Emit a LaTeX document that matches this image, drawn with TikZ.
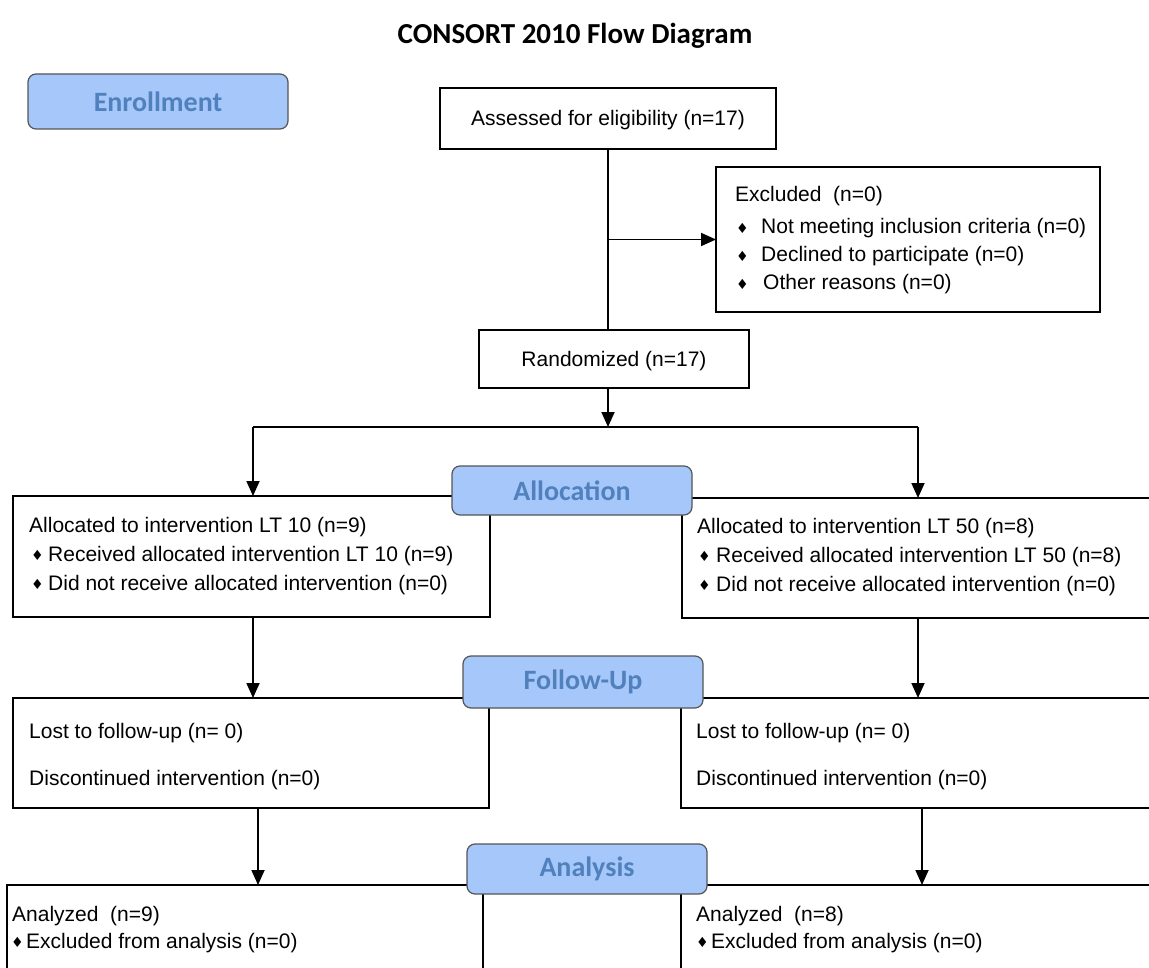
\documentclass[tikz,border=0pt]{standalone}
\usepackage{fontspec}
\setmainfont{Liberation Sans}
\newfontfamily\calib{Carlito}
\newfontfamily\symf{DejaVu Sans}
\usetikzlibrary{arrows.meta}
\definecolor{lblfill}{RGB}{166,199,250}
\definecolor{lbltext}{RGB}{80,129,189}
\definecolor{lbldraw}{RGB}{85,85,85}
\newcommand{\dbul}{\raisebox{0.5pt}{\symf\fontsize{14}{14}\selectfont\char"2666}}
\newcommand{\bodyfont}{\fontsize{21}{25}\selectfont}
\newcommand{\lowr}[1]{\raisebox{-2pt}[\height][\depth]{#1}}
\begin{document}
\begin{tikzpicture}[x=1pt,y=-1pt,font=\bodyfont,
  box/.style={draw=black,line width=1.2pt,inner sep=0pt,outer sep=0pt,anchor=north west,fill=white},
  lbl/.style={draw=lbldraw,line width=1.2pt,fill=lblfill,rounded corners=8pt,anchor=north west,inner sep=0pt,outer sep=0pt,text=lbltext,font=\calib\bfseries\fontsize{28}{30}\selectfont},
  txt/.style={anchor=base west,inner sep=0pt},
  conn/.style={line width=1.8pt},
  arr/.style={line width=1.8pt,-{Triangle[length=15pt,width=13pt]}}]
\clip (0,0) rectangle (1149,968);
\fill[white] (0,0) rectangle (1149,968);

\node[font=\calib\bfseries\fontsize{29}{32}\selectfont] (title) at (575,36) {CONSORT 2010 Flow Diagram};

% boxes
\node[box,minimum width=336pt,minimum height=61pt] (assess) at (440,88) {\lowr{Assessed for eligibility (n=17)}};
\node[box,minimum width=384pt,minimum height=145pt] (excl) at (716,167) {};
\node[box,minimum width=270pt,minimum height=58pt] (rand) at (479,330) {\lowr{Randomized (n=17)}};
\node[box,minimum width=477pt,minimum height=121pt] (allocL) at (13,496) {};
\node[box,minimum width=480pt,minimum height=120pt] (allocR) at (682,498) {};
\node[box,minimum width=476pt,minimum height=110pt] (follL) at (13,698) {};
\node[box,minimum width=480pt,minimum height=110pt] (follR) at (681,698) {};
\node[box,minimum width=476pt,minimum height=120pt] (anaL) at (7,885) {};
\node[box,minimum width=480pt,minimum height=120pt] (anaR) at (681,885) {};

% texts
\node[txt] (ex0) at (735,202) {Excluded\ \ (n=0)};
\node[txt] (ex1) at (736,234) {\makebox[25pt][l]{\dbul}Not meeting inclusion criteria (n=0)};
\node[txt] (ex2) at (736,262) {\makebox[25pt][l]{\dbul}Declined to participate (n=0)};
\node[txt] (ex3) at (736,290) {\makebox[27pt][l]{\dbul}Other reasons (n=0)};

\node[txt] (al0) at (29,532) {Allocated to intervention LT 10 (n=9)};
\node[txt] (al1) at (31,561) {\makebox[17pt][l]{\dbul}Received allocated intervention LT 10 (n=9)};
\node[txt] (al2) at (31,590) {\makebox[17pt][l]{\dbul}Did not receive allocated intervention (n=0)};

\node[txt] (ar0) at (697,533) {Allocated to intervention LT 50 (n=8)};
\node[txt] (ar1) at (698,562) {\makebox[18pt][l]{\dbul}Received allocated intervention LT 50 (n=8)};
\node[txt] (ar2) at (698,591) {\makebox[18pt][l]{\dbul}Did not receive allocated intervention (n=0)};

\node[txt] (fl0) at (29,738) {Lost to follow-up (n= 0)};
\node[txt] (fl1) at (29,785) {Discontinued intervention (n=0)};
\node[txt] (fr0) at (696,738) {Lost to follow-up (n= 0)};
\node[txt] (fr1) at (696,785) {Discontinued intervention (n=0)};

\node[txt] (nl0) at (12,921) {Analyzed\ \ (n=9)};
\node[txt] (nl1) at (11,948) {\makebox[15pt][l]{\dbul}Excluded from analysis (n=0)};
\node[txt] (nr0) at (696,921) {Analyzed\ \ (n=8)};
\node[txt] (nr1) at (696,948) {\makebox[15pt][l]{\dbul}Excluded from analysis (n=0)};

% connectors
\coordinate (sp) at (608,427);
\coordinate (spL) at (253,427);
\coordinate (spR) at (918,427);
\coordinate (aL) at (258,0);
\coordinate (aR) at (922,0);
\draw[conn] (assess.south) -- (assess.south |- rand.north);
\draw[arr] (assess.south |- excl.west) -- (excl.west);
\draw[arr] (assess.south |- rand.south) -- (sp);
\draw[conn] (spL) -- (spR);
\draw[arr] (spL) -- (spL |- allocL.north);
\draw[arr] (spR) -- (spR |- allocR.north);
\draw[arr] (spL |- allocL.south) -- (spL |- follL.north);
\draw[arr] (spR |- allocR.south) -- (spR |- follR.north);
\draw[arr] (aL |- follL.south) -- (aL |- anaL.north);
\draw[arr] (aR |- follR.south) -- (aR |- anaR.north);

% phase labels
\node[lbl,minimum width=260pt,minimum height=55pt] (enrol) at (28,74) {Enrollment};
\node[lbl,minimum width=240pt,minimum height=49pt] (alloc) at (452,466) {Allocation};
\node[lbl,minimum width=240pt,minimum height=52pt] (follow) at (463,656) {Follow-Up};
\node[lbl,minimum width=240pt,minimum height=50pt] (analysis) at (467,844) {Analysis};
\end{tikzpicture}
\end{document}
